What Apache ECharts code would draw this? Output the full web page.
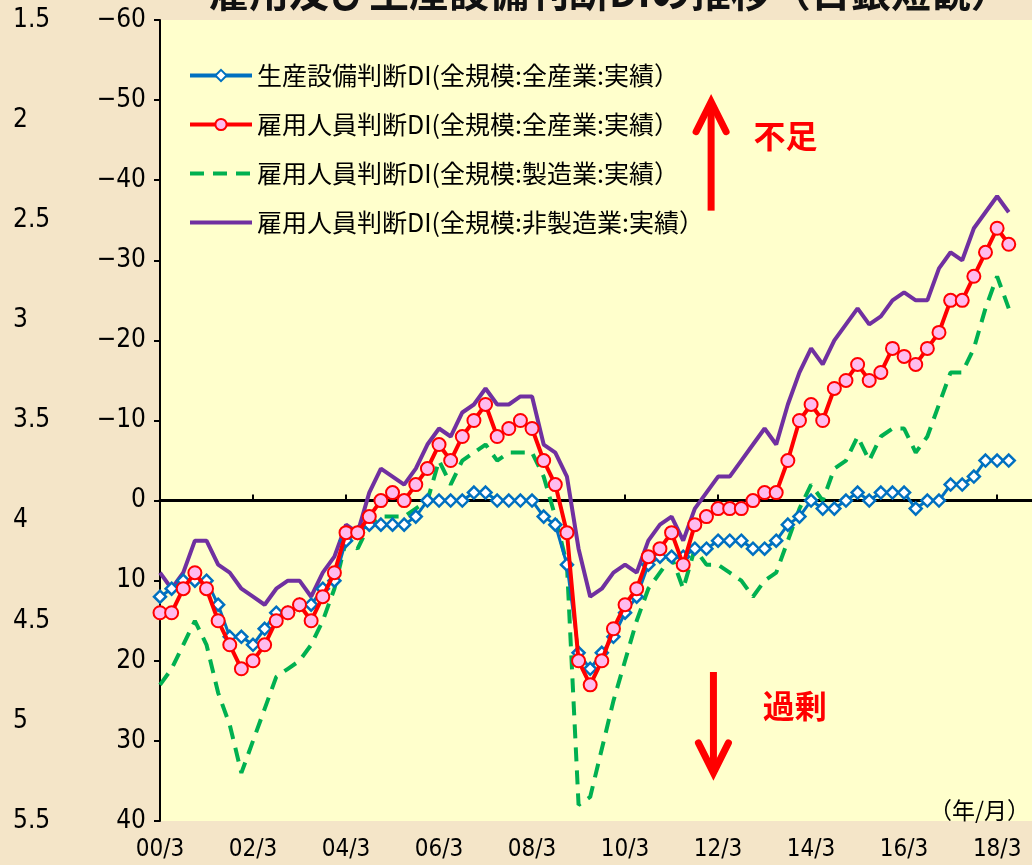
<!DOCTYPE html>
<html>
<head>
<meta charset="utf-8">
<script src="https://cdn.jsdelivr.net/npm/echarts@6/dist/echarts.min.js"></script>
</head>
<body style="margin:0">
<div id="main" style="width:1032px;height:865px"></div>
<script>
// 四半期 (00/3 ～ 18/12)
var years = ['00','01','02','03','04','05','06','07','08','09','10','11','12','13','14','15','16','17','18'];
var months = ['3','6','9','12'];
var categories = [];
years.forEach(function (y) { months.forEach(function (m) { categories.push(y + '/' + m); }); });

// 生産設備判断DI(全規模:全産業)
var setsubiDI = [12,11,10,10,10,13,17,17,18,16, 14,14,13,13,11,10,5,4,3,3,
  3,3,2,0,0,0,0,-1,-1,0, 0,0,0,2,3,8,19,21,19,17,
  14,12,8,7,7,7,6,6,5,5, 5,6,6,5,3,2,0,1,1,0,
  -1,0,-1,-1,-1,1,0,0,-2,-2, -3,-5,-5,-5];
// 雇用人員判断DI(全規模:全産業)
var koyouAll = [14,14,11,9,11,15,18,21,20,18, 15,14,13,15,12,9,4,4,2,0,
  -1,0,-2,-4,-7,-5,-8,-10,-12,-8, -9,-10,-9,-5,-2,4,20,23,20,16,
  13,11,7,6,4,8,3,2,1,1, 1,0,-1,-1,-5,-10,-12,-10,-14,-15,
  -17,-15,-16,-19,-18,-17,-19,-21,-25,-25, -28,-31,-34,-32];
// 雇用人員判断DI(全規模:製造業)
var koyouSeizo = [23,21,18,15,18,24,28,34,30,26, 22,21,20,18,15,11,5,6,3,2,
  2,2,1,0,-5,-2,-5,-6,-7,-5, -6,-6,-6,-3,2,8,38,37,31,25,
  20,15,11,9,7,11,6,8,8,9, 10,12,10,9,5,1,-2,0,-4,-5,
  -8,-5,-8,-9,-9,-6,-8,-12,-16,-16, -19,-24,-28,-24];
// 雇用人員判断DI(全規模:非製造業)
var koyouHiseizo = [9,11,9,5,5,8,9,11,12,13, 11,10,10,12,9,7,3,4,-1,-4,
  -3,-2,-4,-7,-9,-8,-11,-12,-14,-12, -12,-13,-13,-7,-6,-3,6,12,11,9,
  8,9,5,3,2,5,1,-1,-3,-3, -5,-7,-9,-7,-12,-16,-19,-17,-20,-22,
  -24,-22,-23,-25,-26,-25,-25,-29,-31,-30, -34,-36,-38,-36];

var names = ['生産設備判断DI(全規模:全産業:実績）', '雇用人員判断DI(全規模:全産業:実績）',
  '雇用人員判断DI(全規模:製造業:実績）', '雇用人員判断DI(全規模:非製造業:実績）'];

var numFont = "'Liberation Sans Narrow', 'DejaVu Sans Condensed', sans-serif";
var jpFont = "'Noto Sans CJK JP', sans-serif";

var myChart = echarts.init(document.getElementById('main'));

myChart.setOption({
  backgroundColor: '#f4e5c8',
  animation: false,
  title: {
    text: '雇用及び生産設備判断DIの推移（日銀短観）',
    left: 204, top: -33,
    textStyle: { fontSize: 40, fontWeight: 'bold', color: '#111', fontFamily: jpFont }
  },
  legend: {
    data: [
      { name: names[0], lineStyle: { width: 4 } },
      { name: names[1], lineStyle: { width: 4 } },
      { name: names[2], lineStyle: { width: 4 }, itemStyle: { opacity: 0 } },
      { name: names[3], lineStyle: { width: 4 }, itemStyle: { opacity: 0 } }
    ],
    orient: 'vertical',
    left: 183, top: 58,
    itemWidth: 62, itemHeight: 14, itemGap: 24,
    textStyle: { fontSize: 25, lineHeight: 24, color: '#000', fontFamily: jpFont }
  },
  grid: {
    left: 160, right: 0, top: 20, bottom: 44,
    show: true, backgroundColor: '#ffffcc', borderWidth: 0
  },
  xAxis: [{
    type: 'category', data: categories, boundaryGap: false,
    axisLine: { onZero: true, lineStyle: { color: '#000', width: 3 } },
    axisTick: { inside: true, length: 6, interval: 7, lineStyle: { color: '#000', width: 2 } },
    axisLabel: { show: false }
  }, {
    type: 'category', data: categories, boundaryGap: false, position: 'bottom',
    axisLine: { show: false, onZero: false },
    axisTick: { show: false },
    axisLabel: { interval: 7, margin: 17, fontSize: 24, color: '#000', fontFamily: numFont }
  }],
  yAxis: [{
    type: 'value', min: -60, max: 40, interval: 10, inverse: true,
    splitLine: { show: false },
    axisLine: { show: true, lineStyle: { color: '#000', width: 2 } },
    axisTick: { show: true, length: 6, lineStyle: { color: '#000', width: 2 } },
    axisLabel: {
      margin: 14, fontSize: 26, color: '#000', fontFamily: numFont,
      formatter: function (v) { return v < 0 ? '\u2212' + (-v) : String(v); }
    }
  }, {
    type: 'value', min: 1.5, max: 5.5, interval: 0.5, inverse: true,
    position: 'left', offset: 147,
    splitLine: { show: false }, axisLine: { show: false }, axisTick: { show: false },
    axisLabel: { margin: 0, align: 'left', fontSize: 26, color: '#000', fontFamily: numFont }
  }],
  series: [{
    name: names[2], type: 'line', data: koyouSeizo, z: 2,
    symbol: 'none', color: '#00b050',
    lineStyle: { color: '#00b050', width: 4, type: [14, 9] }
  }, {
    name: names[3], type: 'line', data: koyouHiseizo, z: 3,
    symbol: 'none', color: '#7030a0',
    lineStyle: { color: '#7030a0', width: 4 }
  }, {
    name: names[0], type: 'line', data: setsubiDI, z: 4,
    symbol: 'diamond', symbolSize: 12, showSymbol: true, showAllSymbol: true, color: '#0070c0',
    itemStyle: { color: '#fff', borderColor: '#0070c0', borderWidth: 2.5 },
    lineStyle: { color: '#0070c0', width: 3 }
  }, {
    name: names[1], type: 'line', data: koyouAll, z: 5,
    symbol: 'circle', symbolSize: 13, showSymbol: true, showAllSymbol: true, color: '#ff0000',
    itemStyle: { color: '#ffbbee', borderColor: '#ff0000', borderWidth: 2 },
    lineStyle: { color: '#ff0000', width: 4 }
  }]
});

// 矢印と注記（データ座標から位置を求める）
function pt(ix, v) {
  var i0 = Math.floor(ix);
  var a = myChart.convertToPixel('grid', [i0, v]);
  var b = myChart.convertToPixel('grid', [i0 + 1, v]);
  return [a[0] + (b[0] - a[0]) * (ix - i0), a[1]];
}
function arrow(ix, vTail, vTip) {
  var t = pt(ix, vTail), h = pt(ix, vTip);
  var dir = h[1] < t[1] ? 1 : -1;
  return {
    type: 'group', children: [
      { type: 'line', shape: { x1: t[0], y1: t[1], x2: h[0], y2: h[1] + 3 * dir },
        style: { stroke: '#ff0000', lineWidth: 7 } },
      { type: 'polyline', shape: { points: [[h[0] - 15, h[1] + 30 * dir], [h[0], h[1]], [h[0] + 15, h[1] + 30 * dir]] },
        style: { stroke: '#ff0000', lineWidth: 7, lineCap: 'round', lineJoin: 'miter', fill: null } }
    ]
  };
}
function label(ix, v, text) {
  var p = pt(ix, v);
  return { type: 'text', x: p[0], y: p[1],
    style: { text: text, fill: '#ff0000', font: 'bold 32px ' + jpFont, align: 'center', verticalAlign: 'middle' } };
}
myChart.setOption({
  graphic: [
    arrow(47.4, -36.2, -49.8),
    arrow(47.6, 21.4, 34.0),
    label(53.8, -45.5, '不足'),
    label(54.6, 25.6, '過剰'),
    { type: 'text', right: 2, top: 799,
      style: { text: '（年/月）', fill: '#000', font: '23px ' + jpFont } }
  ]
});
</script>
</body>
</html>
